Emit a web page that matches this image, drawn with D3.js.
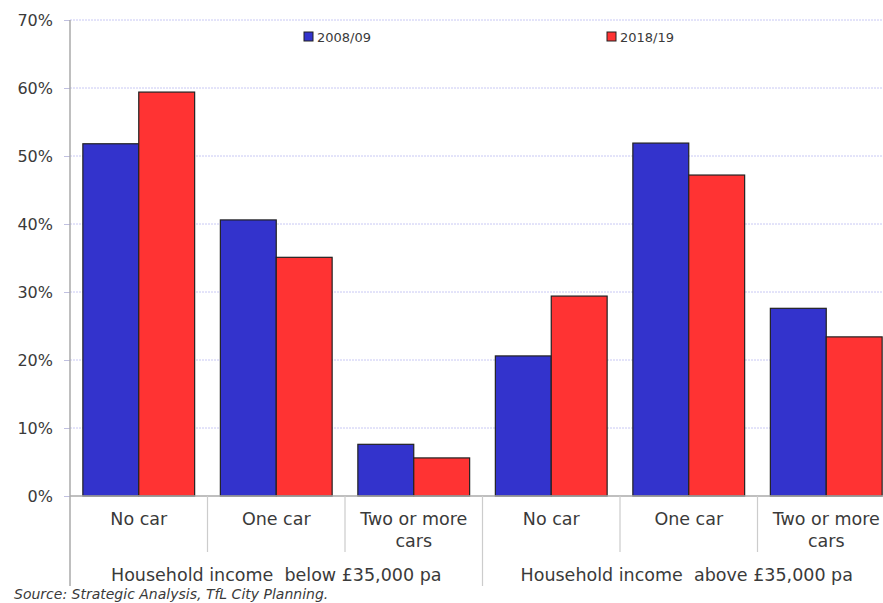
<!DOCTYPE html>
<html>
<head>
<meta charset="utf-8">
<script src="https://cdn.jsdelivr.net/npm/d3@7"></script>
<style>
  body { margin: 0; background: #fff; }
  text { font-family: "DejaVu Sans", sans-serif; fill: #3a3a3a; }
</style>
</head>
<body>
<svg width="883" height="603"></svg>
<script>
var categories = ["No car", "One car", "Two or more cars", "No car", "One car", "Two or more cars"];
var groups = ["Household income  below £35,000 pa", "Household income  above £35,000 pa"];
var series = ["2008/09", "2018/19"];
var values0809 = [51.8, 40.6, 7.6, 20.6, 51.9, 27.6];
var values1819 = [59.4, 35.1, 5.6, 29.4, 47.2, 23.4];
var yTicks = [0, 10, 20, 30, 40, 50, 60, 70];
var colors = ["#3333cc", "#ff3333"];

var width = 883, height = 603;
var margin = {left: 70, right: -12, top: 20, bottom: 107};

var svg = d3.select("svg");

var x = d3.scaleBand()
    .domain(d3.range(categories.length))
    .range([margin.left, width - margin.right]);

var xSub = d3.scaleBand()
    .domain([0, 1])
    .range([0, x.bandwidth()])
    .paddingOuter(0.23);

var y = d3.scaleLinear()
    .domain([0, 70])
    .range([height - margin.bottom, margin.top]);

// gridlines
svg.append("g")
    .selectAll("line")
    .data(yTicks.filter(function(d) { return d > 0; }))
    .enter().append("line")
    .attr("x1", margin.left)
    .attr("x2", width)
    .attr("y1", function(d) { return y(d); })
    .attr("y2", function(d) { return y(d); })
    .attr("stroke", "#c8c8f4")
    .attr("stroke-dasharray", "2,1");

// y axis with small outside ticks
svg.append("g")
    .attr("transform", "translate(" + margin.left + ",0)")
    .call(d3.axisLeft(y).tickValues(yTicks).tickSize(6).tickPadding(0).tickFormat(function() { return ""; }))
    .call(function(g) {
        g.select(".domain").remove();
        g.selectAll(".tick line").attr("stroke", "#c0c0e0");
    });

svg.append("g")
    .selectAll("text")
    .data(yTicks)
    .enter().append("text")
    .attr("x", 53)
    .attr("y", function(d) { return y(d); })
    .attr("dy", "0.35em")
    .attr("text-anchor", "end")
    .style("font-size", "16px")
    .text(function(d) { return d + "%"; });

// bars
var data = [];
categories.forEach(function(c, i) {
    data.push({cat: i, s: 0, v: values0809[i]});
    data.push({cat: i, s: 1, v: values1819[i]});
});

svg.append("g")
    .selectAll("rect")
    .data(data)
    .enter().append("rect")
    .attr("x", function(d) { return x(d.cat) + xSub(d.s); })
    .attr("width", xSub.bandwidth())
    .attr("y", function(d) { return y(d.v); })
    .attr("height", function(d) { return y(0) - y(d.v); })
    .attr("fill", function(d) { return colors[d.s]; })
    .attr("stroke", "#222")
    .attr("stroke-width", 1.2);

// axes lines
var y0 = y(0);
svg.append("line")
    .attr("x1", margin.left).attr("x2", width)
    .attr("y1", y0).attr("y2", y0)
    .attr("stroke", "#aaa").attr("stroke-width", 1.5);
svg.append("line")
    .attr("x1", margin.left).attr("x2", margin.left)
    .attr("y1", margin.top).attr("y2", 586)
    .attr("stroke", "#aaa").attr("stroke-width", 1.5);

// category separators
svg.append("g")
    .selectAll("line")
    .data(d3.range(1, categories.length))
    .enter().append("line")
    .attr("x1", function(d) { return x(d); })
    .attr("x2", function(d) { return x(d); })
    .attr("y1", y0)
    .attr("y2", function(d) { return d === 3 ? 586 : 552; })
    .attr("stroke", "#ccc")
    .attr("stroke-width", 1.2);

// category labels
var catLabels = svg.append("g")
    .selectAll("text")
    .data(categories)
    .enter().append("text")
    .attr("x", function(d, i) { return x(i) + x.bandwidth() / 2; })
    .attr("y", 525)
    .attr("text-anchor", "middle")
    .style("font-size", "17.5px");
catLabels.each(function(d) {
    var t = d3.select(this);
    var lines = d === "Two or more cars" ? ["Two or more", "cars"] : [d];
    lines.forEach(function(l, k) {
        t.append("tspan")
            .attr("x", t.attr("x"))
            .attr("dy", k === 0 ? 0 : 22)
            .text(l);
    });
});

// group labels
svg.append("g")
    .selectAll("text")
    .data(groups)
    .enter().append("text")
    .attr("x", function(d, i) { return (x(i * 3) + x(i * 3 + 2) + x.bandwidth()) / 2 - (i === 1 ? 2 : 0); })
    .attr("y", 581)
    .attr("text-anchor", "middle")
    .style("font-size", "17.5px")
    .style("white-space", "pre")
    .text(function(d) { return d; });

// legend
var legendX = [304, 607];
var legend = svg.append("g")
    .selectAll("g")
    .data(series)
    .enter().append("g")
    .attr("transform", function(d, i) { return "translate(" + legendX[i] + ",32)"; });
legend.append("rect")
    .attr("width", 9).attr("height", 9)
    .attr("fill", function(d, i) { return colors[i]; })
    .attr("stroke", "#222");
legend.append("text")
    .attr("x", 13).attr("y", 5)
    .attr("dy", "0.35em")
    .style("font-size", "13px")
    .text(function(d) { return d; });

// source
svg.append("text")
    .attr("x", 14).attr("y", 599)
    .style("font-size", "14px")
    .style("font-style", "italic")
    .text("Source: Strategic Analysis, TfL City Planning.");
</script>
</body>
</html>
